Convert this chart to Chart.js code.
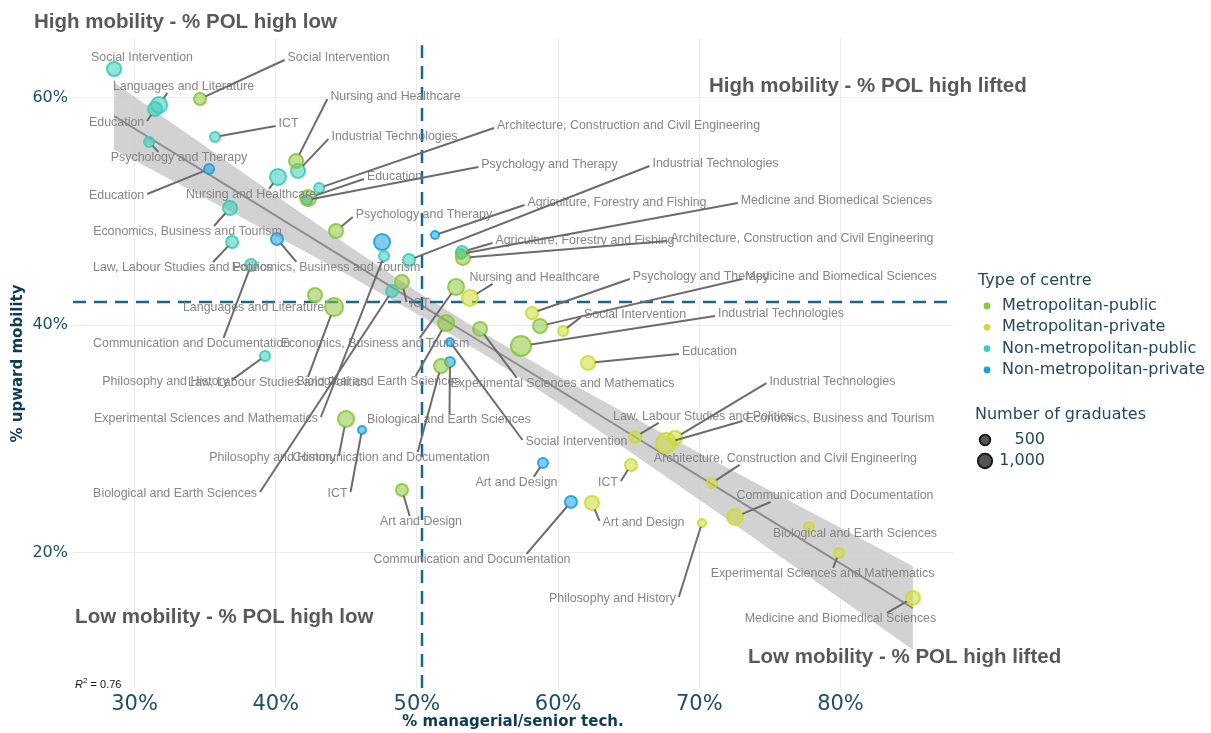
<!DOCTYPE html>
<html>
<head>
<meta charset="utf-8">
<script src="https://cdn.jsdelivr.net/npm/chart.js@4.4.1/dist/chart.umd.min.js"></script>
<style>
  html, body { margin: 0; background: #fff; }
  #wrap { width: 1211px; height: 733px; }
</style>
</head>
<body>
<div id="wrap"><canvas id="mobility"></canvas></div>
<script>
// centre types (legend order)
const centreTypes = ["Metropolitan-public", "Metropolitan-private", "Non-metropolitan-public", "Non-metropolitan-private"];
const centreColours = ["140,198,63", "205,220,57", "60,204,184", "27,161,226"];

// one entry per field of study x type of centre
const fields = [
  "Social Intervention", "Languages and Literature", "Education", "Social Intervention", "ICT",
  "Psychology and Therapy", "Education", "Nursing and Healthcare", "Nursing and Healthcare", "Industrial Technologies",
  "Architecture, Construction and Civil Engineering", "Education", "Psychology and Therapy", "Psychology and Therapy", "Economics, Business and Tourism",
  "Law, Labour Studies and Politics", "Economics, Business and Tourism", "Communication and Documentation", "Philosophy and History", "Languages and Literature",
  "Law, Labour Studies and Politics", "Nursing and Healthcare", "Experimental Sciences and Mathematics", "Biological and Earth Sciences", "ICT",
  "Economics, Business and Tourism", "Nursing and Healthcare", "Biological and Earth Sciences", "Experimental Sciences and Mathematics", "Social Intervention",
  "Biological and Earth Sciences", "Communication and Documentation", "Philosophy and History", "ICT", "Art and Design",
  "Agriculture, Forestry and Fishing", "Industrial Technologies", "Agriculture, Forestry and Fishing", "Architecture, Construction and Civil Engineering", "Medicine and Biomedical Sciences",
  "Psychology and Therapy", "Medicine and Biomedical Sciences", "Social Intervention", "Industrial Technologies", "Education",
  "Law, Labour Studies and Politics", "Economics, Business and Tourism", "Industrial Technologies", "ICT", "Architecture, Construction and Civil Engineering",
  "Art and Design", "Communication and Documentation", "Art and Design", "Philosophy and History", "Communication and Documentation",
  "Biological and Earth Sciences", "Experimental Sciences and Mathematics", "Medicine and Biomedical Sciences"
];
const centre = [
  2, 2, 2, 0, 2, 2, 3, 2, 0, 2,
  2, 0, 3, 0, 2, 2, 3, 2, 2, 0,
  0, 3, 2, 2, 0, 0, 1, 0, 0, 3,
  3, 0, 0, 3, 0, 3, 2, 2, 0, 2,
  1, 0, 1, 0, 1, 1, 1, 1, 1, 1,
  3, 3, 1, 1, 1, 1, 1, 1
];
const managerial = [
  28.55, 31.74, 31.45, 34.64, 35.70, 31.03, 35.28, 40.16, 41.44, 41.58,
  43.07, 42.29, 42.22, 44.27, 36.76, 36.91, 40.09, 38.25, 39.24, 42.78,
  44.13, 47.53, 47.67, 48.24, 48.94, 52.77, 53.76, 52.06, 54.47, 52.34,
  52.34, 51.71, 44.98, 46.11, 48.94, 51.28, 49.44, 53.19, 53.26, 53.12,
  58.15, 58.72, 60.35, 57.37, 62.12, 65.45, 67.64, 68.28, 65.16, 70.90,
  58.93, 60.91, 62.40, 70.19, 72.53, 77.77, 79.89, 85.13
];
const upward = [
  62.52, 59.36, 59.01, 59.89, 56.55, 56.11, 53.73, 53.03, 54.44, 53.56,
  52.06, 51.18, 51.01, 48.28, 50.30, 47.31, 47.58, 45.29, 37.29, 42.65,
  41.60, 47.31, 46.08, 43.01, 43.80, 43.36, 42.39, 40.19, 39.67, 38.52,
  36.76, 36.41, 31.75, 30.79, 25.51, 47.93, 45.73, 46.44, 45.91, 46.26,
  41.07, 39.93, 39.49, 38.17, 36.68, 30.17, 29.64, 30.08, 27.71, 26.13,
  27.89, 24.46, 24.37, 22.61, 23.14, 22.26, 19.97, 16.02
];
const graduates = [
  690, 960, 690, 460, 280, 280, 280, 960, 690, 690,
  280, 960, 280, 690, 690, 460, 460, 460, 280, 690,
  1280, 960, 280, 460, 690, 960, 960, 960, 690, 140,
  280, 690, 960, 140, 460, 140, 460, 460, 690, 280,
  460, 690, 280, 1640, 690, 460, 1640, 690, 460, 280,
  280, 460, 690, 140, 960, 280, 280, 690
];

// where each repelled label sits (data units, label centre); null = no label
const labelAtX = [
  30.53, 33.47, 28.73, 44.45, 40.91, 33.15, 28.73, 38.25, 48.48, 48.41,
  64.99, 48.41, 59.39, 50.50, 33.75, 33.40, 43.56, 34.04, 32.20, 38.43,
  40.13, null, 35.06, 32.87, 50.18, 47.03, 58.33, 47.28, 60.31, 61.30,
  52.27, 48.17, 39.77, 44.38, 50.29, 64.17, 71.15, 61.90, 77.27, 79.72,
  70.12, 80.04, 65.45, 75.79, 70.72, 70.23, 79.96, 79.43, 63.53, 76.10,
  57.05, 53.90, 66.05, 63.85, 79.61, 81.03, 78.73, 80.00
];
const labelAtY = [
  63.49, 60.94, 57.78, 63.49, 57.69, 54.70, 51.36, 51.45, 60.06, 56.55,
  57.51, 53.03, 54.08, 49.69, 48.19, 45.03, 45.03, 38.35, 35.01, 41.51,
  34.92, null, 31.75, 25.16, 41.86, 38.35, 44.15, 35.01, 34.83, 29.73,
  31.67, 28.33, 28.33, 25.16, 22.70, 50.74, 54.17, 47.40, 47.58, 50.92,
  44.24, 44.24, 40.90, 40.98, 37.64, 31.93, 31.75, 35.08, 26.13, 28.24,
  26.13, 19.36, 22.61, 15.93, 24.98, 21.64, 18.13, 14.17
];

// linear fit and its confidence band
const fitX    = [28.55, 35, 40, 45, 50, 55, 60, 65, 70, 75, 80, 85.13];
const fitMid  = [58.39, 53.46, 49.63, 45.81, 41.99, 38.17, 34.35, 30.52, 26.70, 22.88, 19.06, 15.13];
const fitLow  = [55.44, 51.19, 47.86, 44.50, 41.01, 37.25, 33.19, 28.94, 24.64, 20.30, 15.94, 11.46];
const fitHigh = [61.34, 55.73, 51.40, 47.12, 42.97, 39.09, 35.51, 32.10, 28.76, 25.46, 22.18, 18.80];

// reference (median) lines
const medianManagerial = 50.36;
const medianUpward = 42.04;

const xTicks = [30, 40, 50, 60, 70, 80];
const yTicks = [20, 40, 60];
const sizeLegend = [500, 1000];

const X_MIN = 25.64, X_MAX = 87.97, Y_MIN = 8.1, Y_MAX = 65.16;

const radiusFor = n => 1.5 + 0.21 * Math.sqrt(n);

const pointSets = centreTypes.map((name, c) => ({
  label: name,
  type: 'scatter',
  order: 1,
  data: fields.map((f, i) => ({ x: managerial[i], y: upward[i], n: graduates[i], c: centre[i] }))
              .filter(p => p.c === c),
  pointRadius: ctx => radiusFor(ctx.raw.n),
  backgroundColor: `rgba(${centreColours[c]},0.55)`,
  borderColor: `rgba(${centreColours[c]},0.9)`,
  borderWidth: 2
}));

const bandUpper = {
  type: 'line', order: 20,
  data: fitX.map((v, i) => ({ x: v, y: fitHigh[i] })),
  borderWidth: 0, pointRadius: 0, fill: false
};
const bandLower = {
  type: 'line', order: 20,
  data: fitX.map((v, i) => ({ x: v, y: fitLow[i] })),
  borderWidth: 0, pointRadius: 0, fill: '-1',
  backgroundColor: 'rgba(205,205,205,0.9)'
};
const fitLine = {
  type: 'line', order: 15,
  data: fitX.map((v, i) => ({ x: v, y: fitMid[i] })),
  borderColor: '#8e8e8e', borderWidth: 2, pointRadius: 0, fill: false
};
const vLine = {
  type: 'line', order: 10,
  data: [{ x: medianManagerial, y: Y_MIN }, { x: medianManagerial, y: 64.6 }],
  borderColor: '#17698a', borderWidth: 2.5, borderDash: [13, 8], pointRadius: 0, fill: false
};
const hLine = {
  type: 'line', order: 10,
  data: [{ x: X_MIN, y: medianUpward }, { x: X_MAX, y: medianUpward }],
  borderColor: '#17698a', borderWidth: 2.5, borderDash: [13, 8], pointRadius: 0, fill: false
};

// repelled labels with leader segments
const repelLabels = {
  id: 'repelLabels',
  afterDatasetsDraw(chart) {
    const { ctx, scales: { x, y } } = chart;
    ctx.save();
    ctx.font = '12.4px "Liberation Sans", Arial, sans-serif';
    ctx.textAlign = 'center';
    ctx.textBaseline = 'middle';
    ctx.fillStyle = '#858585';
    const segs = [];
    fields.forEach((name, i) => {
      if (labelAtX[i] == null) return;
      const lx = x.getPixelForValue(labelAtX[i]), ly = y.getPixelForValue(labelAtY[i]);
      const px = x.getPixelForValue(managerial[i]), py = y.getPixelForValue(upward[i]);
      const w = ctx.measureText(name).width;
      ctx.fillText(name, lx, ly);
      const x0 = lx - w / 2 - 3, x1 = lx + w / 2 + 3, y0 = ly - 6, y1 = ly + 6;
      const r = radiusFor(graduates[i]);
      // too close to the label: no segment
      const nx = Math.min(Math.max(px, x0), x1), ny = Math.min(Math.max(py, y0), y1);
      if (Math.hypot(nx - px, ny - py) < r + 3) return;
      let ex, ey;
      if (px < x0 || px > x1) {
        // beside the label: join its near side, about mid-height
        ex = px < x0 ? x0 : x1;
        ey = Math.min(Math.max(py, ly - 2), ly + 2);
      } else {
        // above or below: lean towards the label centre
        ey = py < y0 ? y0 : y1;
        ex = px + 0.5 * (lx - px) * (ey - py) / (ly - py);
      }
      const dx = ex - px, dy = ey - py, d = Math.hypot(dx, dy);
      if (d > r + 3) segs.push([px + dx / d * r, py + dy / d * r, ex, ey]);
    });
    ctx.strokeStyle = '#6c6c6c';
    ctx.lineWidth = 2;
    segs.forEach(s => {
      ctx.beginPath();
      ctx.moveTo(s[0], s[1]);
      ctx.lineTo(s[2], s[3]);
      ctx.stroke();
    });
    ctx.restore();
  }
};

// quadrant notes, axis titles, legend
const decorations = {
  id: 'decorations',
  afterDraw(chart) {
    const { ctx, chartArea, scales: { x, y } } = chart;
    ctx.save();
    ctx.textBaseline = 'middle';
    ctx.textAlign = 'left';
    ctx.fillStyle = '#595959';
    ctx.font = 'bold 20.5px "Liberation Sans", Arial, sans-serif';
    const notes = [
      ["High mobility - % POL high low", 22.88, 66.65],
      ["High mobility - % POL high lifted", 70.69, 61.03],
      ["Low mobility - % POL high low", 25.79, 14.35],
      ["Low mobility - % POL high lifted", 73.45, 10.83]
    ];
    notes.forEach(([t, vx, vy]) => ctx.fillText(t, x.getPixelForValue(vx), y.getPixelForValue(vy)));

    // R squared
    let rx = x.getPixelForValue(25.79), ry = y.getPixelForValue(8.37);
    ctx.fillStyle = '#111';
    ctx.font = 'italic 11px "Liberation Sans", Arial, sans-serif';
    ctx.fillText('R', rx, ry);
    rx += ctx.measureText('R').width;
    ctx.font = '8px "Liberation Sans", Arial, sans-serif';
    ctx.fillText('2', rx, ry - 4);
    rx += ctx.measureText('2').width;
    ctx.font = '11px "Liberation Sans", Arial, sans-serif';
    ctx.fillText(' = 0.76', rx, ry);

    // axis titles
    ctx.fillStyle = '#0c3c52';
    ctx.font = 'bold 15px "DejaVu Sans", sans-serif';
    ctx.textAlign = 'center';
    ctx.fillText('% managerial/senior tech.', (chartArea.left + chartArea.right) / 2, 722);
    ctx.save();
    ctx.translate(18, (chartArea.top + chartArea.bottom) / 2);
    ctx.rotate(-Math.PI / 2);
    ctx.fillText('% upward mobility', 0, 0);
    ctx.restore();

    // legend: type of centre
    ctx.textAlign = 'left';
    ctx.fillStyle = '#23495c';
    ctx.font = '16px "DejaVu Sans", sans-serif';
    ctx.fillText('Type of centre', 978, 281);
    centreTypes.forEach((name, c) => {
      const ly = 306 + c * 21.3;
      ctx.beginPath();
      ctx.arc(987, ly, 3.4, 0, Math.PI * 2);
      ctx.fillStyle = `rgb(${centreColours[c]})`;
      ctx.fill();
      ctx.fillStyle = '#23495c';
      ctx.fillText(name, 1002, ly);
    });

    // legend: size
    ctx.fillText('Number of graduates', 975, 415);
    sizeLegend.forEach((n, k) => {
      const ly = 440 + k * 21;
      ctx.beginPath();
      ctx.arc(985, ly, radiusFor(n) - 1, 0, Math.PI * 2);
      ctx.fillStyle = '#555';
      ctx.fill();
      ctx.strokeStyle = '#1a1a1a';
      ctx.lineWidth = 2;
      ctx.stroke();
      ctx.fillStyle = '#23495c';
      ctx.textAlign = 'right';
      ctx.fillText(n.toLocaleString('en-US'), 1045, ly);
      ctx.textAlign = 'left';
    });
    ctx.restore();
  }
};

new Chart(document.getElementById('mobility'), {
  type: 'scatter',
  data: { datasets: [bandUpper, bandLower, fitLine, vLine, hLine, ...pointSets] },
  options: {
    responsive: true,
    maintainAspectRatio: false,
    animation: false,
    events: [],
    layout: { padding: { top: 39, right: 258, left: 0, bottom: 0 } },
    plugins: { legend: { display: false }, tooltip: { enabled: false } },
    scales: {
      x: {
        type: 'linear', min: X_MIN, max: X_MAX,
        afterBuildTicks: s => { s.ticks = xTicks.map(v => ({ value: v })); },
        afterFit: s => { s.height = 45; },
        grid: { color: '#ebebeb', lineWidth: 1, drawTicks: false },
        border: { display: false },
        ticks: {
          padding: 4, color: '#1d4f66',
          font: { family: 'DejaVu Sans', size: 21 },
          callback: v => v + '%'
        }
      },
      y: {
        type: 'linear', min: Y_MIN, max: Y_MAX,
        afterBuildTicks: s => { s.ticks = yTicks.map(v => ({ value: v })); },
        afterFit: s => { s.width = 73; },
        grid: { color: '#ebebeb', lineWidth: 1, drawTicks: false },
        border: { display: false },
        ticks: {
          padding: 5, color: '#1d4f66',
          font: { family: 'DejaVu Sans', size: 16 },
          callback: v => v + '%'
        }
      }
    }
  },
  plugins: [repelLabels, decorations]
});
</script>
</body>
</html>
